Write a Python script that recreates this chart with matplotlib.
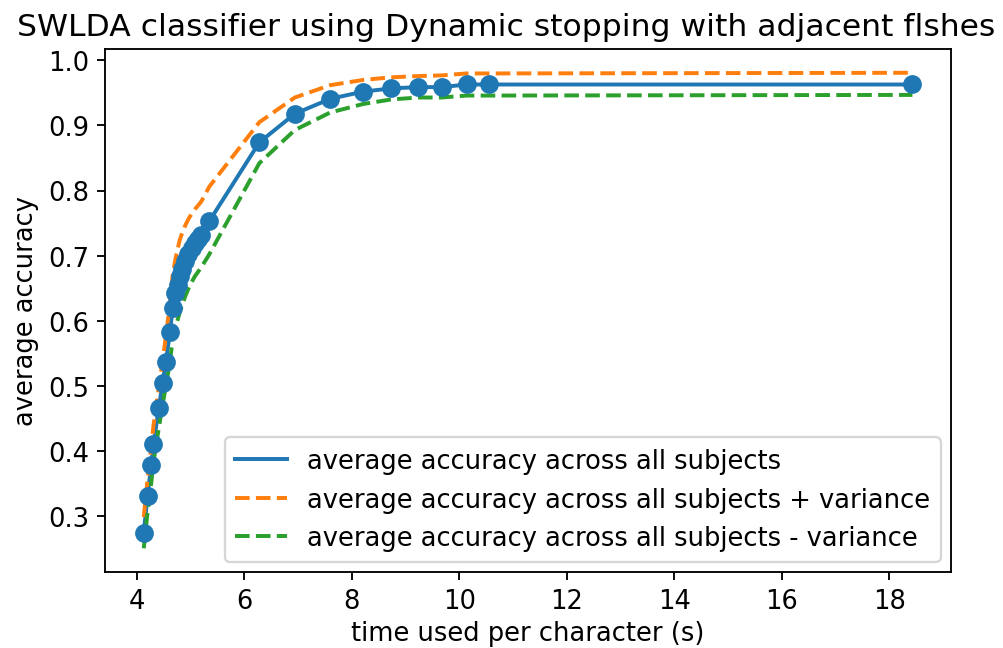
import matplotlib
matplotlib.use("Agg")
import matplotlib.pyplot as plt

# time used per character (s) and average accuracy
time_per_char = [4.13, 4.20, 4.27, 4.31, 4.41, 4.48, 4.54, 4.62, 4.665,
                 4.72, 4.76, 4.80, 4.85, 4.90, 4.96, 5.02, 5.08, 5.14, 5.20,
                 5.35, 6.28, 6.94, 7.60, 8.21, 8.73, 9.24, 9.67, 10.14, 10.55,
                 18.43]
avg_acc = [0.274, 0.330, 0.378, 0.410, 0.466, 0.504, 0.537, 0.583, 0.619,
           0.643, 0.655, 0.668, 0.680, 0.692, 0.703, 0.712, 0.720, 0.726, 0.732,
           0.753, 0.874, 0.918, 0.941, 0.952, 0.957, 0.959, 0.959, 0.963, 0.963,
           0.963]
acc_plus = [0.298, 0.355, 0.405, 0.438, 0.497, 0.538, 0.575, 0.628, 0.668,
            0.695, 0.710, 0.724, 0.736, 0.746, 0.756, 0.764, 0.771, 0.777, 0.783,
            0.806, 0.905, 0.943, 0.962, 0.970, 0.974, 0.976, 0.977, 0.980, 0.980,
            0.981]
acc_minus = [0.250, 0.305, 0.351, 0.382, 0.435, 0.470, 0.499, 0.538, 0.570,
             0.591, 0.601, 0.613, 0.625, 0.637, 0.649, 0.659, 0.668, 0.675, 0.682,
             0.702, 0.842, 0.893, 0.920, 0.933, 0.940, 0.943, 0.943, 0.946, 0.946,
             0.947]

plt.rcParams['font.size'] = 11.1

fig = plt.figure(figsize=(6.0, 3.882), dpi=167.17)
ax = fig.add_axes([0.105, 0.117, 0.843, 0.806])

ax.plot(time_per_char, avg_acc, lw=1.7, label='average accuracy across all subjects')
ax.plot(time_per_char, acc_plus, '--', lw=1.7, label='average accuracy across all subjects + variance')
ax.plot(time_per_char, acc_minus, '--', lw=1.7, label='average accuracy across all subjects - variance')
ax.scatter(time_per_char, avg_acc, s=50, color='C0', zorder=3)

# title is wider than the axes, start it near the left edge of the figure
ax.set_title('SWLDA classifier using Dynamic stopping with adjacent flshes',
             fontsize=13.5, loc='left', x=-0.105)
ax.set_xlabel('time used per character (s)', labelpad=2.5)
ax.set_ylabel('average accuracy')
ax.set_xticks([4, 6, 8, 10, 12, 14, 16, 18])
ax.legend(loc='lower right', borderaxespad=0.4)

fig.savefig('out.png', dpi=167.17)
